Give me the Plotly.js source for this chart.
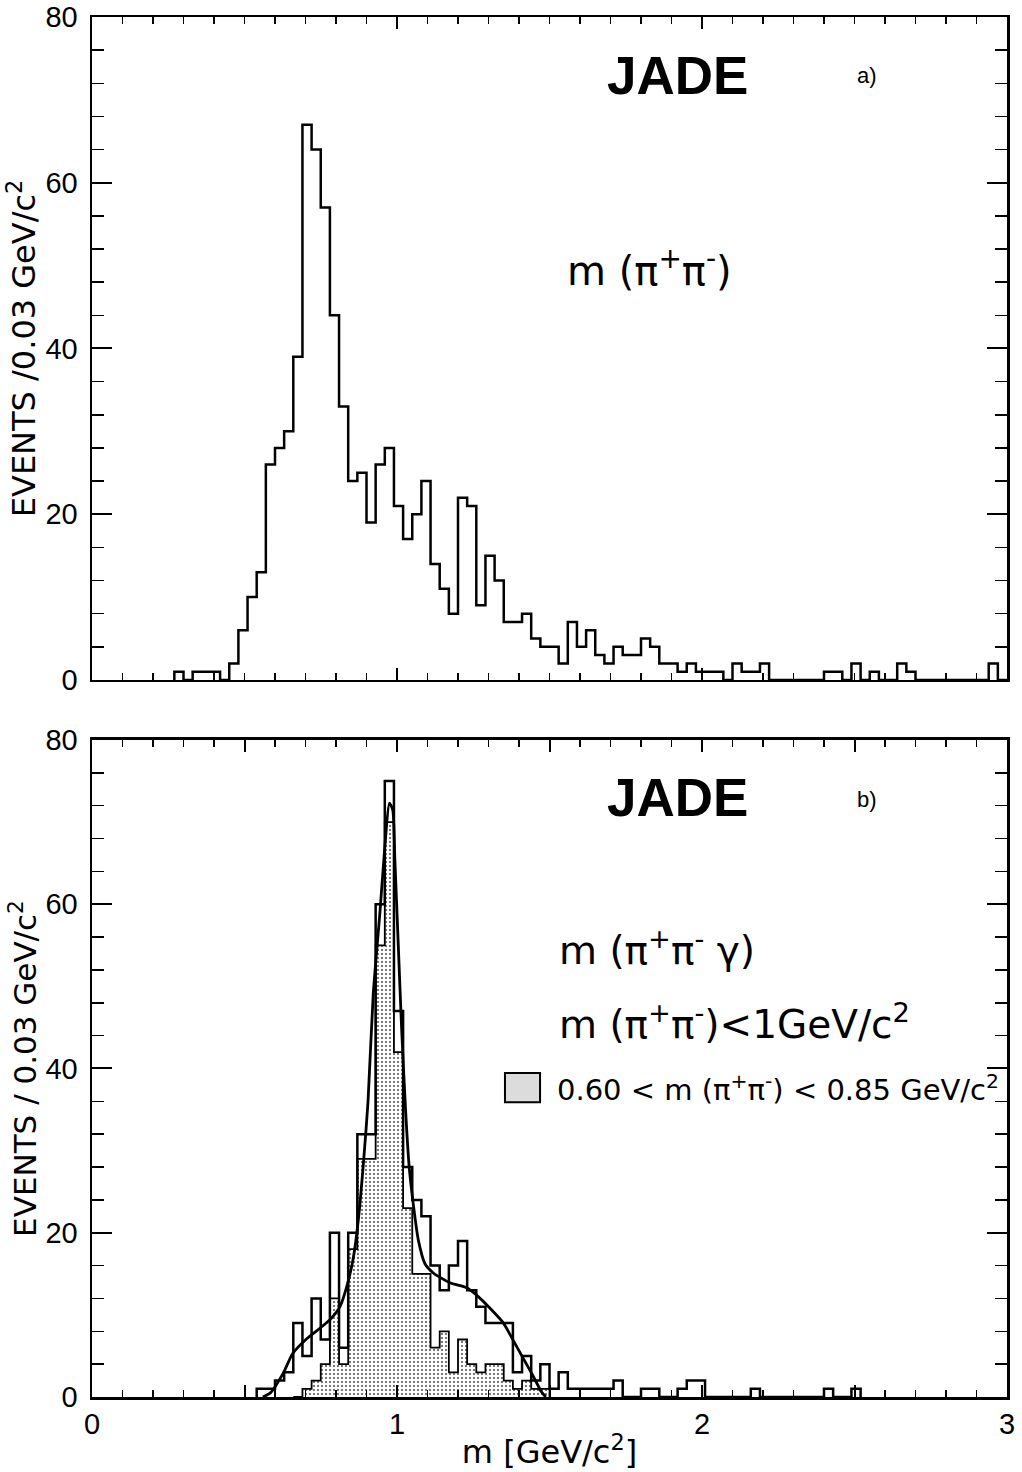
<!DOCTYPE html>
<html>
<head>
<meta charset="utf-8">
<script src="https://cdn.plot.ly/plotly-3.0.1.min.js"></script>
<style>html,body{margin:0;padding:0;background:#fff}#chart{width:1022px;height:1472px}</style>
</head>
<body>
<div id="chart"></div>
<script>
// ---------------- data ----------------
const BIN_WIDTH = 0.03;            // GeV/c^2 per bin

// panel a) m(pi+ pi-) : first bin low edge and counts per bin
const aFirstEdge = 0.27;
const aCounts = [
  1, 0, 1, 1, 1, 0, 2, 6, 10, 13,
  26, 28, 30, 39, 67, 64, 57, 44, 33, 24,
  25, 19, 26, 28, 21, 17, 20, 24, 14, 11,
  8, 22, 21, 9, 15, 12, 7, 7, 8, 5,
  4, 4, 2, 7, 4, 6, 3, 2, 4, 3,
  3, 5, 4, 2, 2, 1, 2, 1, 1, 1,
  0, 2, 1, 1, 2, 0, 0, 0, 0, 0,
  0, 1, 1, 0, 2, 0, 1, 0, 0, 2,
  1, 0, 0, 0, 0, 0, 0, 0, 0, 2,
  0
];

// panel b) m(pi+ pi- gamma), m(pi+pi-) < 1 GeV/c^2
const bFirstEdge = 0.54;
const bCounts = [
  1, 1, 2, 3, 9, 5, 12, 7, 20, 6,
  20, 32, 32, 60, 75, 47, 28, 24, 22, 16,
  13, 16, 19, 13, 11, 9, 9, 9, 3, 5,
  2, 4, 1, 3, 1, 1, 1, 1, 1, 2,
  0, 0, 1, 1, 0, 0, 1, 2, 2, 0,
  0, 0, 0, 0, 1, 0, 0, 0, 0, 0,
  0, 0, 1, 0, 0, 1
];

// panel b) shaded: 0.60 < m(pi+pi-) < 0.85 GeV/c^2
const sFirstEdge = 0.66;
const sCounts = [
  0, 1, 2, 4, 12, 4, 18, 29, 29, 55,
  70, 42, 23, 15, 15, 6, 8, 3, 7, 4,
  3, 4, 4, 2, 1, 2, 1, 1
];

// panel b) fitted curve
const fitMass = [0.56, 0.585, 0.627, 0.658, 0.704, 0.748, 0.780, 0.813, 0.835, 0.857,
                 0.873, 0.890, 0.905, 0.922, 0.944, 0.961, 0.975, 0.986, 0.993, 1.004,
                 1.015, 1.028, 1.040, 1.054, 1.070, 1.092, 1.119, 1.174, 1.228, 1.261,
                 1.305, 1.349, 1.381, 1.414, 1.447, 1.474, 1.488];
const fitEvents = [0, 0.5, 2.9, 5.3, 7.1, 8.4, 9.4, 11.0, 13.4, 17.0,
                   21.5, 28.5, 36, 49, 59, 67.4, 72.3, 71.5, 65.4, 55.2,
                   45.0, 35, 28, 23.3, 19.1, 16.2, 15.1, 13.9, 13.3, 12.4,
                   10.8, 9.0, 6.9, 4.7, 2.5, 0.6, 0];

// axis ticks
const xTickVals = [0, 0.5, 1, 1.5, 2, 2.5, 3];
const xTickText = ['0', '', '1', '', '2', '', '3'];
const yTickVals = [0, 20, 40, 60, 80];

// ---------------- helpers ----------------
// step outline of a histogram: closed down to zero at both ends
function stepXY(firstEdge, counts) {
  const x = [], y = [];
  const edge = i => +(firstEdge + i * BIN_WIDTH).toFixed(4);
  x.push(edge(0)); y.push(0);
  counts.forEach((c, i) => { x.push(edge(i)); y.push(c); });
  x.push(edge(counts.length)); y.push(counts[counts.length - 1]);
  x.push(edge(counts.length)); y.push(0);
  return {x, y};
}

const FONT = 'Liberation Sans, Arial, sans-serif';
const WIDE = 'DejaVu Sans, Verdana, sans-serif';
const a = stepXY(aFirstEdge, aCounts);
const b = stepXY(bFirstEdge, bCounts);
const s = stepXY(sFirstEdge, sCounts);

const traces = [
  {x: a.x, y: a.y, xaxis: 'x', yaxis: 'y', type: 'scatter', mode: 'lines',
   line: {shape: 'hv', color: '#000', width: 2.5}, showlegend: false, hoverinfo: 'skip'},
  {x: s.x, y: s.y, xaxis: 'x2', yaxis: 'y2', type: 'scatter', mode: 'lines',
   line: {shape: 'hv', color: '#000', width: 1.8}, fill: 'tozeroy',
   fillcolor: 'rgba(0,0,0,0)',
   fillpattern: {shape: '.', fgcolor: '#555', bgcolor: '#fff', size: 4, solidity: 0.22},
   showlegend: false, hoverinfo: 'skip'},
  {x: b.x, y: b.y, xaxis: 'x2', yaxis: 'y2', type: 'scatter', mode: 'lines',
   line: {shape: 'hv', color: '#000', width: 2.5}, showlegend: false, hoverinfo: 'skip'},
  {x: fitMass, y: fitEvents, xaxis: 'x2', yaxis: 'y2', type: 'scatter', mode: 'lines',
   line: {shape: 'spline', smoothing: 0.6, color: '#000', width: 2.8}, showlegend: false, hoverinfo: 'skip'}
];

const xBase = {
  range: [0, 3], showline: true, linecolor: '#000', linewidth: 2.5, mirror: 'ticks',
  ticks: 'inside', ticklen: 12, tickwidth: 2, tickcolor: '#000',
  tickmode: 'array', tickvals: xTickVals, ticktext: xTickText,
  minor: {tickmode: 'linear', tick0: 0, dtick: 0.1, ticks: 'inside', ticklen: 7, tickwidth: 1.5, tickcolor: '#000', showgrid: false},
  showgrid: false, zeroline: false, fixedrange: true,
  tickfont: {family: FONT, size: 29, color: '#000'}
};
const yBase = {
  range: [0, 80], showline: true, linecolor: '#000', linewidth: 2.5, mirror: 'ticks',
  ticks: 'inside', ticklen: 20, tickwidth: 2, tickcolor: '#000',
  tickmode: 'array', tickvals: yTickVals,
  minor: {tickmode: 'linear', tick0: 0, dtick: 4, ticks: 'inside', ticklen: 12, tickwidth: 1.5, tickcolor: '#000', showgrid: false},
  showgrid: false, zeroline: false, fixedrange: true, ticklabelstandoff: 6,
  tickfont: {family: FONT, size: 29, color: '#000'}
};

const layout = {
  width: 1022, height: 1472,
  margin: {l: 92, r: 15, t: 17, b: 75},
  paper_bgcolor: '#fff', plot_bgcolor: '#fff',
  font: {family: FONT, color: '#000'},
  showlegend: false,
  xaxis: Object.assign({}, xBase, {anchor: 'y', showticklabels: false}),
  xaxis2: Object.assign({}, xBase, {anchor: 'y2',
    title: {text: 'm [GeV/c<sup>2</sup>]', font: {family: WIDE, size: 32, color: '#000'}, standoff: 2}}),
  yaxis: Object.assign({}, yBase, {domain: [0.5196, 1], anchor: 'x',
    title: {text: 'EVENTS /0.03 GeV/c<sup>2</sup>', font: {family: WIDE, size: 32, color: '#000'}, standoff: 0}}),
  yaxis2: Object.assign({}, yBase, {domain: [0, 0.4761], anchor: 'x2',
    title: {text: 'EVENTS / 0.03 GeV/c<sup>2</sup>', font: {family: WIDE, size: 31, color: '#000'}, standoff: 0}}),
  annotations: [
    {xref: 'x', yref: 'y', x: 1.921, y: 73, text: '<b>JADE</b>', showarrow: false,
     font: {family: FONT, size: 53, color: '#000'}, xanchor: 'center', yanchor: 'middle'},
    {xref: 'x', yref: 'y', x: 2.54, y: 73, text: 'a)', showarrow: false,
     font: {family: FONT, size: 22, color: '#000'}, xanchor: 'center', yanchor: 'middle'},
    {xref: 'x', yref: 'y', x: 1.551, y: 49.7, text: 'm (π<sup>+</sup>π<sup>-</sup>)', showarrow: false,
     font: {family: WIDE, size: 40, color: '#000'}, xanchor: 'left', yanchor: 'middle'},
    {xref: 'x2', yref: 'y2', x: 1.921, y: 73, text: '<b>JADE</b>', showarrow: false,
     font: {family: FONT, size: 53, color: '#000'}, xanchor: 'center', yanchor: 'middle'},
    {xref: 'x2', yref: 'y2', x: 2.54, y: 72.7, text: 'b)', showarrow: false,
     font: {family: FONT, size: 22, color: '#000'}, xanchor: 'center', yanchor: 'middle'},
    {xref: 'x2', yref: 'y2', x: 1.525, y: 54.7, text: 'm (π<sup>+</sup>π<sup>-</sup> γ)', showarrow: false,
     font: {family: WIDE, size: 39, color: '#000'}, xanchor: 'left', yanchor: 'middle'},
    {xref: 'x2', yref: 'y2', x: 1.525, y: 45.7, text: 'm (π<sup>+</sup>π<sup>-</sup>)<1GeV/c<sup>2</sup>', showarrow: false,
     font: {family: WIDE, size: 39, color: '#000'}, xanchor: 'left', yanchor: 'middle'},
    {xref: 'x2', yref: 'y2', x: 1.518, y: 37.6, text: '0.60 < m (π<sup>+</sup>π<sup>-</sup>) < 0.85 GeV/c<sup>2</sup>', showarrow: false,
     font: {family: WIDE, size: 29, color: '#000'}, xanchor: 'left', yanchor: 'middle'}
  ],
  shapes: [
    {type: 'rect', xref: 'x2', yref: 'y2', x0: 1.354, x1: 1.469, y0: 35.9, y1: 39.45,
     line: {color: '#000', width: 2}, fillcolor: '#dcdcdc'}
  ]
};

Plotly.newPlot('chart', traces, layout, {staticPlot: true, displayModeBar: false});
</script>
</body>
</html>
